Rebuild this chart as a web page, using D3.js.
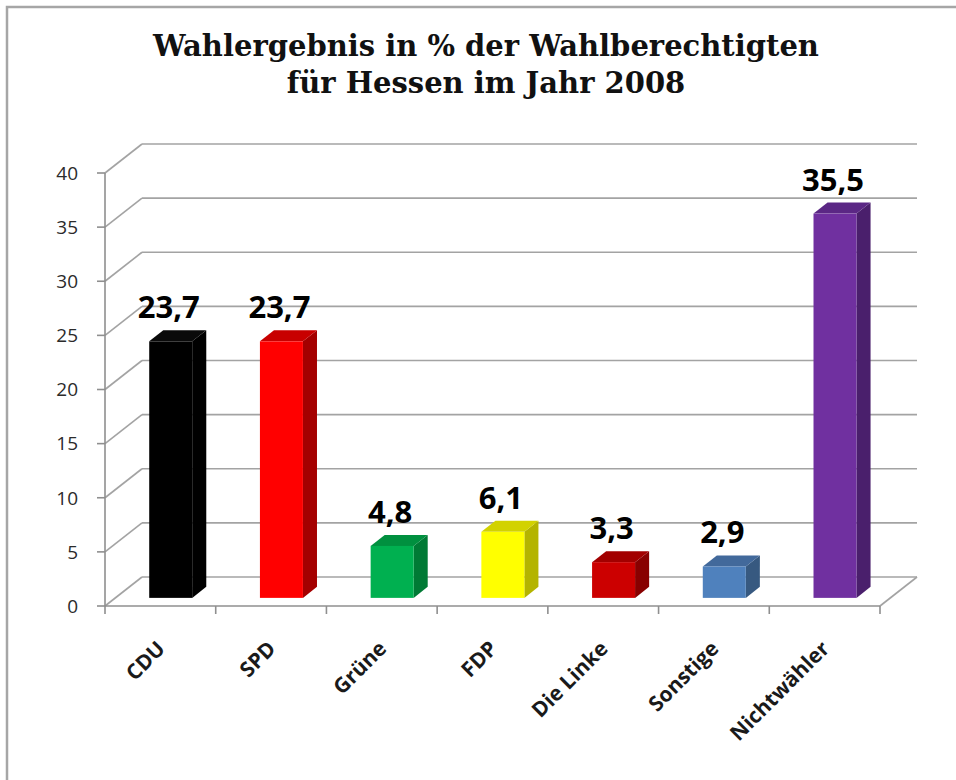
<!DOCTYPE html>
<html lang="de">
<head>
<meta charset="utf-8">
<title>Wahlergebnis Hessen 2008</title>
<script src="https://d3js.org/d3.v7.min.js"></script>
<style>
  html, body { margin: 0; padding: 0; background: #fff; }
  svg { display: block; }
</style>
</head>
<body>
<svg id="chart" width="956" height="780"></svg>
<script>
// Daten
const titleLines = ["Wahlergebnis in % der Wahlberechtigten", "für Hessen im Jahr 2008"];
const parteien = ["CDU", "SPD", "Grüne", "FDP", "Die Linke", "Sonstige", "Nichtwähler"];
const prozent = [23.7, 23.7, 4.8, 6.1, 3.3, 2.9, 35.5];
const yTicks = [0, 5, 10, 15, 20, 25, 30, 35, 40];

// Farben: [Vorderseite, Oberseite, Seite]
const farben = [
  ["#000000", "#0a0a0a", "#000000"],
  ["#ff0000", "#c80000", "#a40000"],
  ["#00b050", "#00903f", "#007a35"],
  ["#ffff00", "#d2d200", "#b4b400"],
  ["#cc0000", "#a20000", "#880000"],
  ["#4f81bd", "#42699b", "#375980"],
  ["#7030a0", "#5b2785", "#4a1f6c"]
];

const svg = d3.select("#chart");

// Rahmen (nur oben und links sichtbar)
svg.append("path")
  .attr("d", "M7,780 L7,7 L956,7")
  .attr("fill", "none").attr("stroke", "#a6a6a6").attr("stroke-width", 2.5);

// Titel
svg.append("g").selectAll("text").data(titleLines).enter().append("text")
  .attr("x", 486).attr("y", (d, i) => 56 + i * 37)
  .attr("text-anchor", "middle")
  .style("font-family", "'DejaVu Serif', serif")
  .style("font-weight", "bold")
  .style("font-size", "29px")
  .attr("fill", "#111")
  .text(d => d);

// 3D-Geometrie: Vorderebene + Tiefenversatz
const depthX = 37, depthY = -29;
const x = d3.scaleBand().domain(parteien).range([105, 880]).paddingInner(0).paddingOuter(0);
const y = d3.scaleLinear().domain([0, 40]).range([606, 173]);
function proj(px, py, z) { return [px + z * depthX, py + z * depthY]; }

const gridColor = "#a3a3a3";
const grid = svg.append("g");

// Rückwand-Gitterlinien
grid.selectAll("line.back").data(yTicks).enter().append("line")
  .attr("x1", 105 + depthX).attr("x2", 880 + depthX)
  .attr("y1", d => y(d) + depthY).attr("y2", d => y(d) + depthY)
  .attr("stroke", gridColor).attr("stroke-width", 1.6);

// Seitenwand-Gitterlinien
grid.selectAll("line.side").data(yTicks).enter().append("line")
  .attr("x1", 105).attr("y1", d => y(d))
  .attr("x2", 105 + depthX).attr("y2", d => y(d) + depthY)
  .attr("stroke", gridColor).attr("stroke-width", 1.6);

// Boden rechts
grid.append("line")
  .attr("x1", 880).attr("y1", y(0)).attr("x2", 880 + depthX).attr("y2", y(0) + depthY)
  .attr("stroke", gridColor).attr("stroke-width", 1.6);

// Achsen
const axisColor = "#8f8f8f";
grid.append("line").attr("x1", 105).attr("x2", 105).attr("y1", y(40)).attr("y2", y(0))
  .attr("stroke", axisColor).attr("stroke-width", 1.6);
grid.append("line").attr("x1", 105).attr("x2", 880).attr("y1", y(0)).attr("y2", y(0))
  .attr("stroke", axisColor).attr("stroke-width", 1.6);
grid.selectAll("line.yt").data(yTicks).enter().append("line")
  .attr("x1", 97).attr("x2", 105).attr("y1", d => y(d)).attr("y2", d => y(d))
  .attr("stroke", axisColor).attr("stroke-width", 1.6);
const xEdges = parteien.map(p => x(p)).concat([880]);
grid.selectAll("line.xt").data(xEdges).enter().append("line")
  .attr("x1", d => d).attr("x2", d => d).attr("y1", y(0)).attr("y2", y(0) + 8)
  .attr("stroke", axisColor).attr("stroke-width", 1.6);

// Y-Beschriftung
svg.append("g").selectAll("text").data(yTicks).enter().append("text")
  .attr("x", 78).attr("y", d => y(d)).attr("dy", "0.36em")
  .attr("text-anchor", "end")
  .style("font-family", "'Open Sans', sans-serif")
  .style("font-size", "19px")
  .attr("fill", "#2b2b2b")
  .text(d => d);

// Balken
const zFront = 0.28, zBack = 0.66, halfW = 21.5;
const bars = svg.append("g").selectAll("g").data(parteien).enter().append("g");
bars.each(function(p, i) {
  const g = d3.select(this);
  const cx = x(p) + x.bandwidth() / 2;
  const v = prozent[i];
  const [fl, fb] = proj(cx - halfW, y(0), zFront);
  const fr = fl + 2 * halfW;
  const ft = proj(cx, y(v), zFront)[1];
  const dx = (zBack - zFront) * depthX, dy = (zBack - zFront) * depthY;
  // Seite
  g.append("path")
    .attr("d", `M${fr},${fb} L${fr + dx},${fb + dy} L${fr + dx},${ft + dy} L${fr},${ft} Z`)
    .attr("fill", farben[i][2]);
  // Oberseite
  g.append("path")
    .attr("d", `M${fl},${ft} L${fl + dx},${ft + dy} L${fr + dx},${ft + dy} L${fr},${ft} Z`)
    .attr("fill", farben[i][1]);
  // Vorderseite
  g.append("rect")
    .attr("x", fl).attr("y", ft).attr("width", fr - fl).attr("height", fb - ft)
    .attr("fill", farben[i][0]);
  // Wert
  g.append("text")
    .attr("x", (fl + fr) / 2 - 2).attr("y", ft + dy - 12)
    .attr("text-anchor", "middle")
    .style("font-family", "'Open Sans', sans-serif")
    .style("font-weight", "bold")
    .style("font-size", "31px")
    .attr("fill", "#000")
    .text(d3.format(".1f")(v).replace(".", ","));
});

// Kategorien
svg.append("g").selectAll("text").data(parteien).enter().append("text")
  .attr("transform", p => `translate(${x(p) + x.bandwidth() / 2 + 6},${650}) rotate(-45)`)
  .attr("text-anchor", "end")
  .style("font-family", "'Open Sans', sans-serif")
  .style("font-weight", "bold")
  .style("font-size", "21px")
  .attr("fill", "#1a1a1a")
  .text(d => d);
</script>
</body>
</html>
